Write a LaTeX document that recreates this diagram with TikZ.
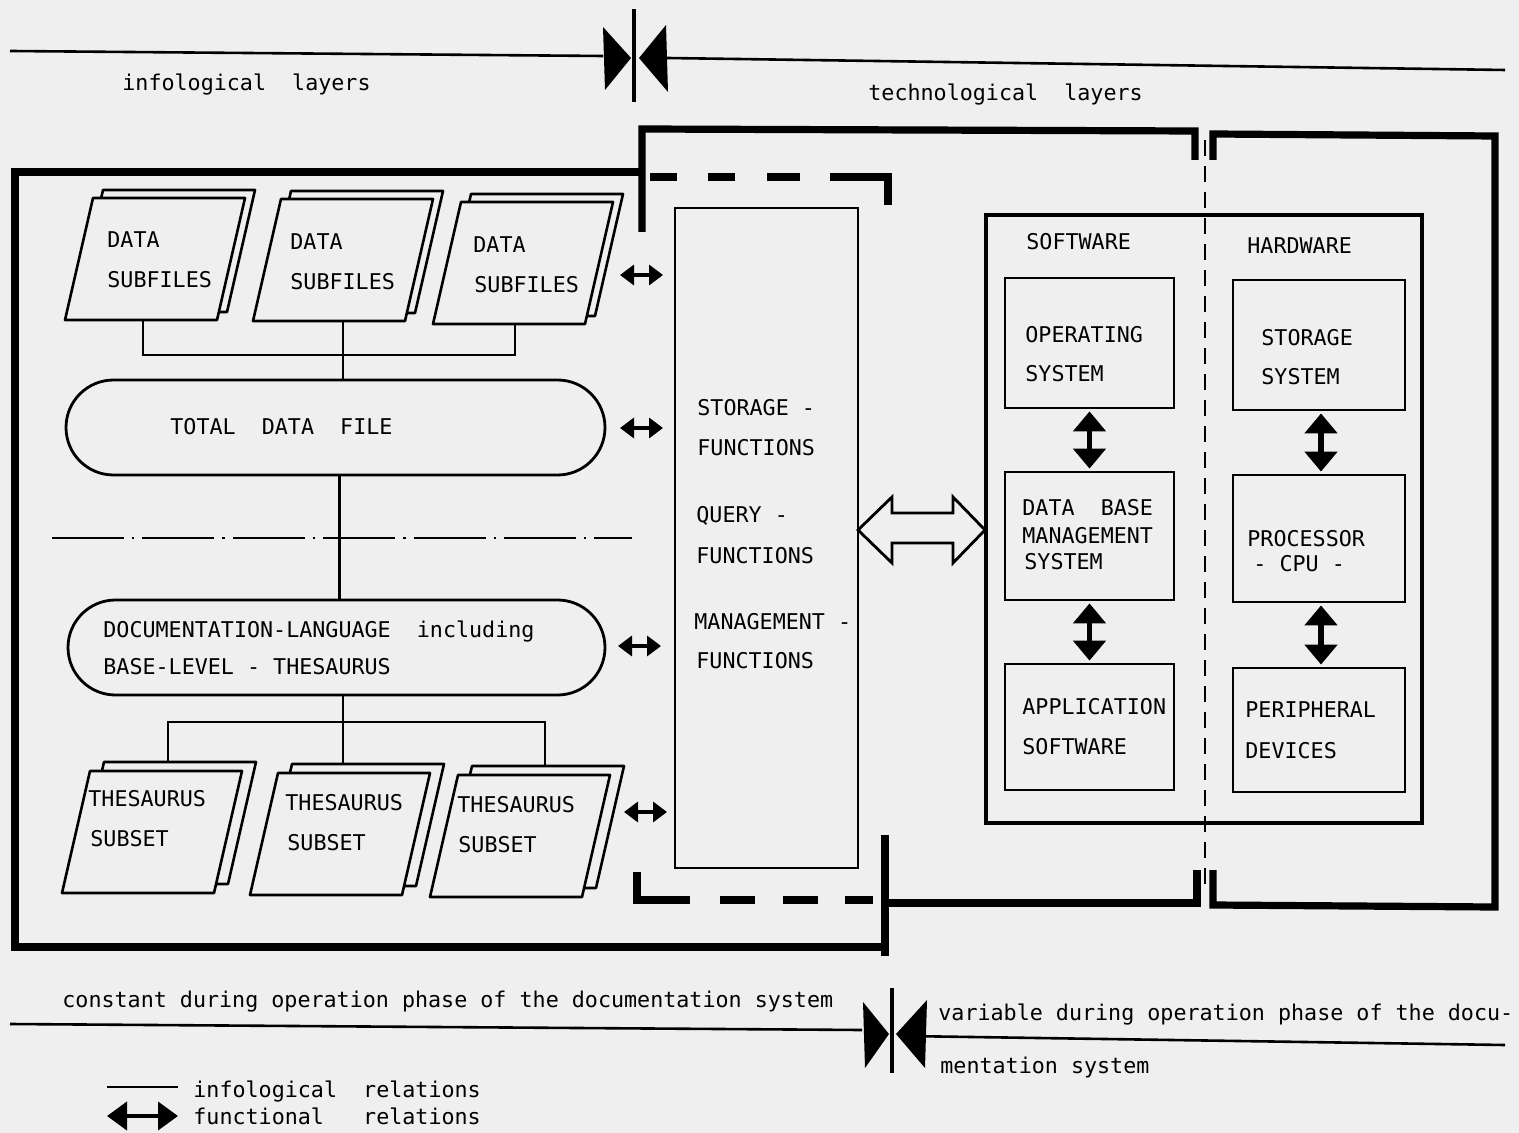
\documentclass[tikz,border=0pt]{standalone}
\usepackage{fontspec}
\setmonofont{DejaVu Sans Mono}
\usetikzlibrary{arrows.meta,shapes.misc}
\definecolor{bgc}{RGB}{239,239,239}
\tikzset{
  rule/.style={line width=1.3pt},
  thinline/.style={line width=1.3pt},
  frame/.style={line width=3.6pt, line join=miter, line cap=butt},
  lbl/.style={font=\ttfamily\fontsize{10.85}{12}\selectfont, anchor=base west, inner sep=0pt},
  box/.style={draw, line width=1.4pt, fill=bgc, inner sep=0pt},
  pill/.style={draw, rounded rectangle, line width=1.4pt, fill=bgc, inner sep=0pt},
  farrow/.style={line width=2pt, {Triangle[length=7pt,width=10pt]}-{Triangle[length=7pt,width=10pt]}},
  varrow/.style={line width=2.6pt, {Triangle[length=10pt,width=16pt]}-{Triangle[length=10pt,width=16pt]}},
  legarrow/.style={line width=2pt, {Triangle[length=10pt,width=14pt]}-{Triangle[length=10pt,width=14pt]}},
}
\newcommand\mypgram[4]{% BL x, BL y, back dx, back dy
  \draw[thinline,fill=bgc,line join=round] (#1+#3,#2+#4) -- ++(152,0) -- ++(28,-122) -- ++(-152,0) -- cycle;
  \draw[thinline,fill=bgc,line join=round] (#1,#2) -- ++(152,0) -- ++(28,-122) -- ++(-152,0) -- cycle;
}
\begin{document}
\begin{tikzpicture}[x=0.5pt,y=-0.5pt]
\useasboundingbox (0,0) rectangle (1519,1133);
\fill[bgc] (0,0) rectangle (1519,1133);

% ---- top rule and bowtie
\draw[rule] (10,51) -- (603,56);
\draw[rule] (667,58) -- (1505,70);
\draw[line width=1.6pt] (634,9) -- (634,102);
\fill (603,27) -- (605,90) -- (631,58) -- cycle;
\fill (666,25) -- (668,92) -- (639,58) -- cycle;
\node[lbl] (tinfo) at (122,91) {infological~~layers};
\node[lbl] (ttech) at (868,101) {technological~~layers};

% ---- infological frame
\draw[frame] (642,172) -- (15,172) -- (15,947) -- (885,947);
\draw[frame] (885,835) -- (885,956);
% dashed part
\draw[frame] (650,177) -- (677,177);
\draw[frame] (708,177) -- (735,177);
\draw[frame] (767,177) -- (800,177);
\draw[frame] (830,177) -- (888,177) -- (888,205);
\draw[frame] (637,872) -- (637,900) -- (690,900);
\draw[frame] (720,900) -- (755,900);
\draw[frame] (783,900) -- (818,900);
\draw[frame] (845,900) -- (873,900);

% ---- technological frame
\draw[frame] (642,232) -- (642,129) -- (1195,131) -- (1195,160);
\draw[frame] (1213,160) -- (1213,134) -- (1495,136) -- (1495,907) -- (1213,905) -- (1213,870);
\draw[frame] (885,903) -- (1197,903) -- (1197,870);

% ---- software / hardware
\node[box, line width=1.7pt, minimum width=218pt, minimum height=304pt] (swhw) at (1204,519) {};
\draw[line width=1pt, dash pattern=on 8pt off 5pt] (1205,140) -- (1205,885);
\node[lbl] (tsw) at (1026,250) {SOFTWARE};
\node[lbl] (thw) at (1247,254) {HARDWARE};

\node[box, minimum width=84.5pt, minimum height=65pt] (os) at (1089.5,343) {};
\node[box, minimum width=84.5pt, minimum height=64pt] (dbms) at (1089.5,536) {};
\node[box, minimum width=84.5pt, minimum height=63pt] (app) at (1089.5,727) {};
\node[box, minimum width=86pt, minimum height=65pt] (stor) at (1319,345) {};
\node[box, minimum width=86pt, minimum height=63.5pt] (cpu) at (1319,538.5) {};
\node[box, minimum width=86pt, minimum height=62pt] (per) at (1319,730) {};

\node[lbl] (tos1) at (1025,343) {OPERATING};
\node[lbl] (tos2) at (1025,382) {SYSTEM};
\node[lbl] (tdb1) at (1022,516) {DATA~~BASE};
\node[lbl] (tdb2) at (1022,543) {MANAGEMENT};
\node[lbl] (tdb3) at (1024,569) {SYSTEM};
\node[lbl] (tap1) at (1022,714) {APPLICATION};
\node[lbl] (tap2) at (1022,754) {SOFTWARE};
\node[lbl] (tst1) at (1261,346) {STORAGE};
\node[lbl] (tst2) at (1261,385) {SYSTEM};
\node[lbl] (tcp1) at (1247,546) {PROCESSOR};
\node[lbl] (tcp2) at (1253,571) {- CPU -};
\node[lbl] (tpe1) at (1245,717) {PERIPHERAL};
\node[lbl] (tpe2) at (1245,758) {DEVICES};

\draw[varrow] ([yshift=-1pt]os.south) -- ([yshift=1pt]dbms.north);
\draw[varrow] ([yshift=-1pt]dbms.south) -- ([yshift=1pt]app.north);
\draw[varrow] ([yshift=-1pt,xshift=1pt]stor.south) -- ([yshift=1pt,xshift=1pt]cpu.north);
\draw[varrow] ([yshift=-1pt,xshift=1pt]cpu.south) -- ([yshift=1pt,xshift=1pt]per.north);

% ---- functions box
\node[box, minimum width=91.5pt, minimum height=330pt] (func) at (766.5,538) {};
\node[lbl] (tf1) at (697,416) {STORAGE -};
\node[lbl] (tf2) at (697,456) {FUNCTIONS};
\node[lbl] (tf3) at (696,523) {QUERY -};
\node[lbl] (tf4) at (696,563) {FUNCTIONS};
\node[lbl] (tf5) at (694,629) {MANAGEMENT -};
\node[lbl] (tf6) at (696,668) {FUNCTIONS};

% hollow double arrow
\draw[line width=1.4pt, fill=bgc, line join=miter]
  (858,530) -- (892,497) -- (892,513) -- (953,513) -- (953,497) -- (985,530)
  -- (953,563) -- (953,543) -- (892,543) -- (892,563) -- cycle;

% ---- data subfiles
\mypgram{65}{320}{10}{-8}
\mypgram{253}{321}{10}{-8}
\mypgram{433}{324}{10}{-8}
\node[lbl] (td1a) at (107,248) {DATA};
\node[lbl] (td1b) at (107,288) {SUBFILES};
\node[lbl] (td2a) at (290,250) {DATA};
\node[lbl] (td2b) at (290,290) {SUBFILES};
\node[lbl] (td3a) at (473,253) {DATA};
\node[lbl] (td3b) at (474,293) {SUBFILES};
\coordinate (d1b) at (143,320);
\coordinate (d2b) at (343,321);
\coordinate (d3b) at (515,324);
\coordinate (j1) at (343,355);

% ---- total data file
\node[pill, minimum width=269.5pt, minimum height=47.5pt] (total) at (335.5,427.5) {};
\node[lbl] (ttotal) at (170,435) {TOTAL~~DATA~~FILE};
\draw[rule] (d1b) |- (j1) -| (d3b);
\draw[rule] (d2b) -- (d2b |- total.north);

% dash-dot separator
\draw[line width=1.2pt, dash pattern=on 36pt off 4pt on 1.2pt off 4pt] (52,538) -- (632,538);

% ---- documentation language
\node[pill, minimum width=268.5pt, minimum height=47.5pt] (doc) at (336.5,647.5) {};
\node[lbl] (tdoc1) at (103,637) {DOCUMENTATION-LANGUAGE~~including};
\node[lbl] (tdoc2) at (103,674) {BASE-LEVEL - THESAURUS};
\draw[rule] ([xshift=2pt]total.south) -- ([xshift=2pt]total.south |- doc.north);

% ---- thesaurus subsets
\mypgram{62}{893}{14}{-9}
\mypgram{250}{895}{14}{-9}
\mypgram{430}{897}{14}{-9}
\node[lbl] (tt1a) at (88,806) {THESAURUS};
\node[lbl] (tt1b) at (90,846) {SUBSET};
\node[lbl] (tt2a) at (285,810) {THESAURUS};
\node[lbl] (tt2b) at (287,850) {SUBSET};
\node[lbl] (tt3a) at (457,812) {THESAURUS};
\node[lbl] (tt3b) at (458,852) {SUBSET};
\coordinate (t1t) at (168,762);
\coordinate (t2t) at (343,764);
\coordinate (t3t) at (545,766);
\coordinate (j2) at (343,722);
\draw[rule] (t2t |- doc.south) -- (t2t);
\draw[rule] (t1t) |- (j2) -| (t3t);

% ---- functional relation arrows
\coordinate (fa1) at (620,275); \coordinate (fb1) at (663,275);
\coordinate (fa2) at (620,428); \coordinate (fb2) at (663,428);
\coordinate (fa3) at (618,646); \coordinate (fb3) at (661,646);
\coordinate (fa4) at (624,812); \coordinate (fb4) at (667,812);
\draw[farrow] (fa1) -- (fb1);
\draw[farrow] (fa2) -- (fb2);
\draw[farrow] (fa3) -- (fb3);
\draw[farrow] (fa4) -- (fb4);

% ---- bottom rule and bowtie
\node[lbl] (tconst) at (62,1007) {constant during operation phase of the documentation system};
\draw[rule] (10,1024) -- (862,1030);
\draw[rule] (905,1036) -- (1505,1045);
\draw[line width=1.6pt] (892,988) -- (892,1073);
\fill (863,1002) -- (865,1068) -- (889,1034) -- cycle;
\fill (927,1000) -- (925,1068) -- (896,1034) -- cycle;
\node[lbl] (tvar1) at (938,1020) {variable during operation phase of the docu-};
\node[lbl] (tvar2) at (940,1073) {mentation system};

% ---- legend
\coordinate (la1) at (107,1087); \coordinate (lb1) at (178,1087);
\coordinate (la2) at (107,1116); \coordinate (lb2) at (178,1116);
\draw[rule] (la1) -- (lb1);
\draw[legarrow] (la2) -- (lb2);
\node[lbl] (tleg1) at (193,1097) {infological~~relations};
\node[lbl] (tleg2) at (193,1124) {functional~~~relations};
\end{tikzpicture}
\end{document}
